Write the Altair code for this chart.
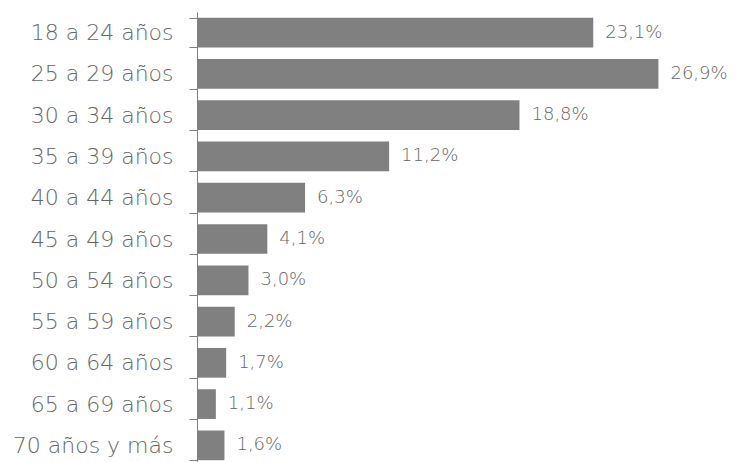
import altair as alt
import pandas as pd

categories = ["18 a 24 años", "25 a 29 años", "30 a 34 años", "35 a 39 años",
              "40 a 44 años", "45 a 49 años", "50 a 54 años", "55 a 59 años",
              "60 a 64 años", "65 a 69 años", "70 años y más"]
values = [23.1, 26.9, 18.8, 11.2, 6.3, 4.1, 3.0, 2.2, 1.7, 1.1, 1.6]
labels = [f"{v:.1f}".replace(".", ",") + "%" for v in values]

df = pd.DataFrame({"cat": categories, "val": values, "lab": labels})

FONT = "DejaVu Sans"
TXT = "#666666"

y = alt.Y("cat:N", sort=categories, title=None,
          scale=alt.Scale(paddingInner=0.28, paddingOuter=0.14, range=[0, 454]),
          axis=alt.Axis(tickBand="extent", tickSize=8, labelPadding=16,
                        domainColor="#808080", tickColor="#808080",
                        labelColor=TXT, labelFont=FONT, labelFontSize=22,
                        labelFontWeight=200))
x = alt.X("val:Q", title=None, scale=alt.Scale(domain=[0, 27.4]), axis=None)

bars = alt.Chart(df).mark_bar(color="#808080").encode(x=x, y=y)
text = alt.Chart(df).mark_text(align="left", baseline="middle", dx=12,
                               font=FONT, fontSize=18, fontWeight=200,
                               color=TXT).encode(
    x=x, y=alt.Y("cat:N", sort=categories), text="lab:N")

chart = (bars + text).properties(
    width=470, height=454,
    padding={"left": 189, "top": 4, "right": 61, "bottom": 0},
    autosize=alt.AutoSizeParams(type="none"),
    background="white",
).configure_view(stroke=None)

chart.save("out.html", embed_options={"renderer": "svg", "actions": False})
